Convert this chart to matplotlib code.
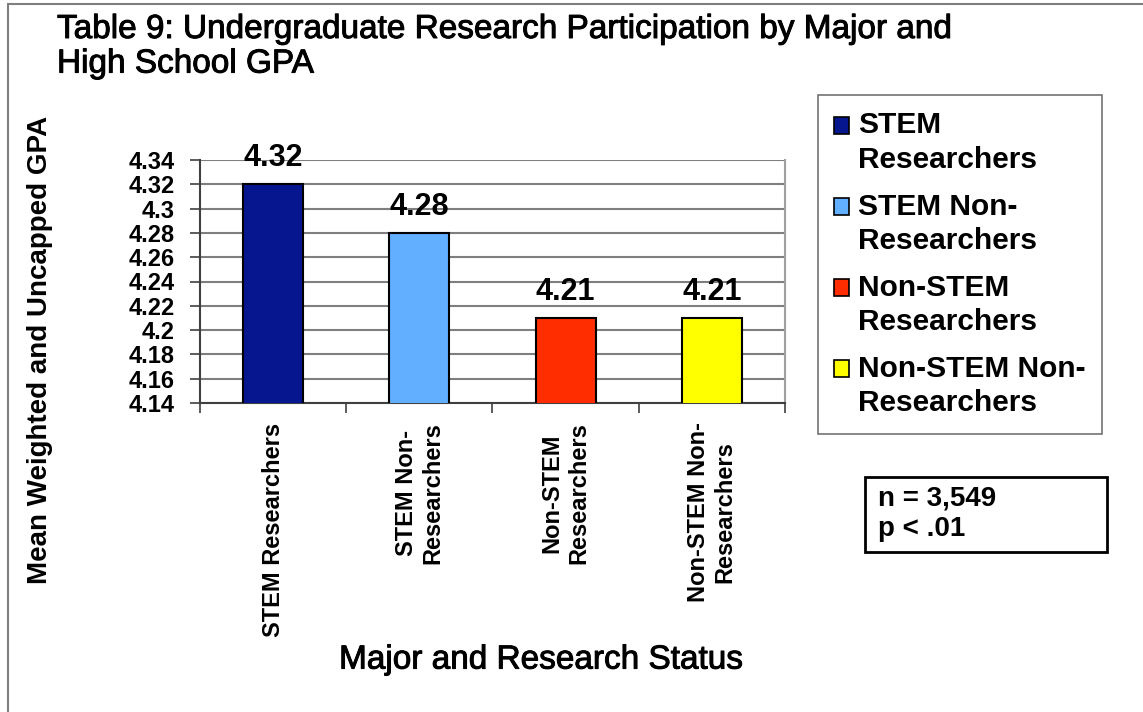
import numpy as np
import matplotlib
matplotlib.use("Agg")
import matplotlib.pyplot as plt
import matplotlib.patheffects as pe
from matplotlib.patches import Rectangle, Patch
from matplotlib.legend_handler import HandlerPatch

plt.rcParams['font.family'] = ['Liberation Sans', 'DejaVu Sans']

# data
categories = ["STEM Researchers", "STEM Non-\nResearchers",
              "Non-STEM\nResearchers", "Non-STEM Non-\nResearchers"]
legend_labels = ["STEM\nResearchers", "STEM Non-\nResearchers",
                 "Non-STEM\nResearchers", "Non-STEM Non-\nResearchers"]
gpa = [4.32, 4.28, 4.21, 4.21]
value_labels = ["4.32", "4.28", "4.21", "4.21"]
ytick_values = [4.14, 4.16, 4.18, 4.20, 4.22, 4.24, 4.26, 4.28, 4.30, 4.32, 4.34]
ytick_labels = ["4.14", "4.16", "4.18", "4.2", "4.22", "4.24", "4.26", "4.28", "4.3", "4.32", "4.34"]
colors = ["#06168F", "#62AEFF", "#FF2D00", "#FFFF00"]

W, H = 1143, 712
fig = plt.figure(figsize=(W / 100, H / 100), dpi=100)

# outer frame (left + top visible)
fig.patches.append(Rectangle((8 / W, -0.1), 1.2, 1 - 4 / H + 0.1, transform=fig.transFigure,
                             fill=False, edgecolor="#7f7f7f", linewidth=1.5))

ax = fig.add_axes([200 / W, 309 / H, 585 / W, 243 / H])
x = np.arange(len(gpa))
ax.bar(x, gpa, width=0.41, color=colors, edgecolor="black", linewidth=1.5, zorder=3)

ax.set_ylim(4.14, 4.34)
ax.set_xlim(-0.5, len(gpa) - 0.5)
ax.set_yticks(ytick_values)
ax.set_yticklabels(ytick_labels, fontsize=17, fontweight="bold")
ax.yaxis.grid(True, color="#7f7f7f", linewidth=1.5, zorder=0)
ax.tick_params(axis="y", length=7, width=1.2, color="#404040", pad=11)

ax.set_xticks(x)
ax.set_xticklabels(categories, rotation=90, fontsize=17, fontweight="bold",
                   va="top", ha="center", multialignment="center")
ax.tick_params(axis="x", which="major", length=0, pad=14)
ax.set_xticks(np.arange(-0.5, len(gpa)), minor=True)
ax.tick_params(axis="x", which="minor", length=7, width=1.2, color="#404040")

ax.spines["top"].set_visible(False)
ax.spines["right"].set_color("#a0a0a0")
ax.spines["right"].set_linewidth(1.5)
ax.spines["left"].set_color("#404040")
ax.spines["left"].set_linewidth(1.5)
ax.spines["bottom"].set_color("#404040")
ax.spines["bottom"].set_linewidth(1.5)

for xi, v, lab in zip(x, gpa, value_labels):
    ax.annotate(lab, (xi, v), xytext=(0, 13), textcoords="offset points",
                ha="center", va="baseline", fontsize=22, fontweight="bold", clip_on=False)

# slightly heavier than regular, like the reference
medium = [pe.withStroke(linewidth=0.7, foreground="black")]

ax.set_ylabel("Mean Weighted and Uncapped GPA", fontsize=20, fontweight="bold", va="center")
ax.yaxis.set_label_coords(-0.273, 0.218)
ax.set_xlabel("Major and Research Status", fontsize=24, va="center", path_effects=medium)
ax.xaxis.set_label_coords(0.583, -1.058)

fig.text(57 / W, 1 - 14 / H,
         "Table 9: Undergraduate Research Participation by Major and\nHigh School GPA",
         fontsize=24, ha="left", va="top", linespacing=1.15, path_effects=medium)


# legend markers sit next to the first line of each label
def top_patch(legend, orig_handle, xdescent, ydescent, width, height, fontsize):
    return Rectangle((-xdescent, -ydescent + 13), width, height)


handles = [Patch(facecolor=c, edgecolor="black", linewidth=1.2) for c in colors]
leg = fig.legend(handles, legend_labels, loc="upper left",
                 bbox_to_anchor=(818 / W, 1 - 95 / H), prop={"size": 21.5, "weight": "bold"},
                 frameon=True, fancybox=False, edgecolor="#505050", borderpad=0.55,
                 handlelength=0.5, handleheight=0.5, handletextpad=0.3, labelspacing=0.62,
                 borderaxespad=0, handler_map={Patch: HandlerPatch(patch_func=top_patch)})
leg.get_frame().set_linewidth(1.2)
for t in leg.get_texts():
    t.set_linespacing(1.3)

# stats box
fig.patches.append(Rectangle((865 / W, 1 - 552 / H), 242 / W, 75 / H, transform=fig.transFigure,
                             fill=False, edgecolor="black", linewidth=2))
fig.text(878 / W, 1 - 514 / H, "n = 3,549\np < .01", fontsize=20, fontweight="bold",
         ha="left", va="center", linespacing=1.2)

fig.savefig("out.png", dpi=100)
